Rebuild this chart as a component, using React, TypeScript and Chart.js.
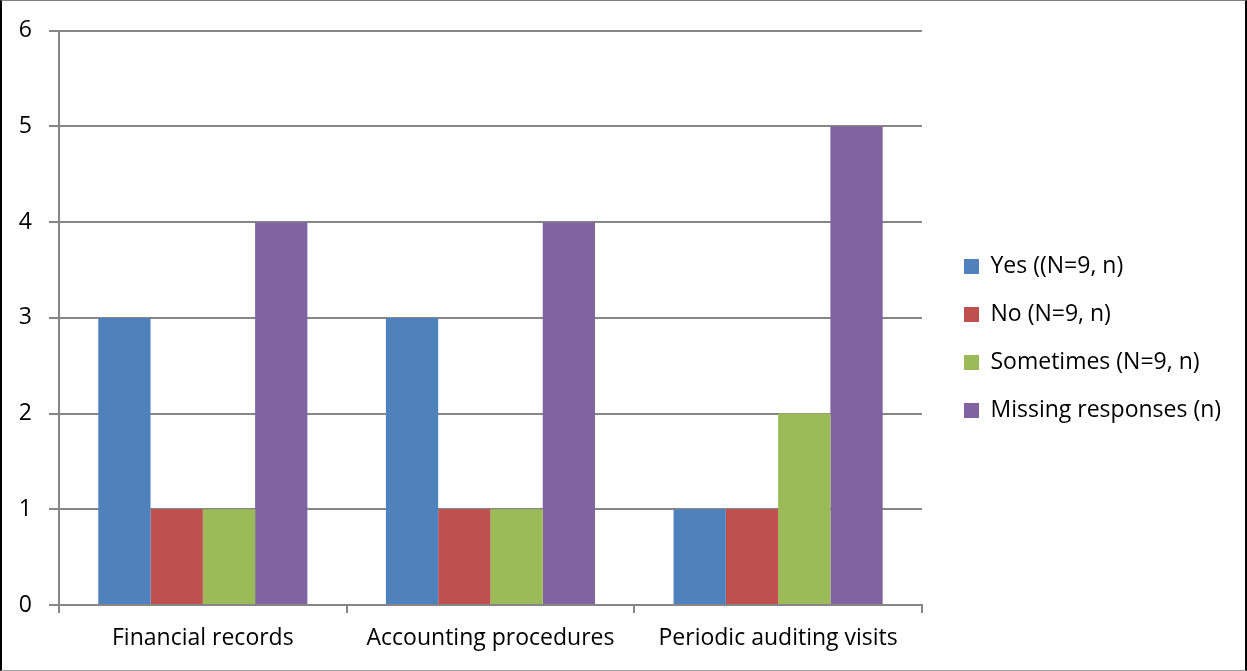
import React, { useEffect, useRef } from "react";
import { Chart, registerables } from "chart.js";

Chart.register(...registerables);

const categories = ["Financial records", "Accounting procedures", "Periodic auditing visits"];
const seriesNames = ["Yes ((N=9, n)", "No (N=9, n)", "Sometimes (N=9, n)", "Missing responses (n)"];
const yesValues = [3, 3, 1];
const noValues = [1, 1, 1];
const sometimesValues = [1, 1, 2];
const missingValues = [4, 4, 5];
const seriesColors = ["#4F81BD", "#C0504D", "#9BBB59", "#8064A2"];

const FONT = "'Open Sans', 'Noto Sans', sans-serif";
const GRID = "#868686";
const FS = 23;
const LEG_PAD = 25;

export default function App() {
  const ref = useRef<HTMLCanvasElement | null>(null);

  useEffect(() => {
    if (!ref.current) return;
    const values = [yesValues, noValues, sometimesValues, missingValues];
    const legendShift = {
      id: "legendShift",
      afterLayout(chart: any) {
        const lg = chart.legend;
        if (!lg) return;
        const dx = 964 - (lg.left + LEG_PAD);
        const dy = -12;
        lg.left += dx;
        lg.right += dx;
        lg.top += dy;
        lg.bottom += dy;
      },
    };
    const chart = new Chart(ref.current, {
      type: "bar",
      data: {
        labels: categories,
        datasets: seriesNames.map((name, i) => ({
          label: name,
          data: values[i],
          backgroundColor: seriesColors[i],
          borderWidth: 0,
          categoryPercentage: 0.727,
          barPercentage: 1,
        })),
      },
      options: {
        animation: false,
        responsive: false,
        maintainAspectRatio: false,
        layout: { padding: { top: 30, left: 0, bottom: 0, right: 33 } },
        plugins: {
          tooltip: { enabled: false },
          legend: {
            position: "right",
            labels: {
              boxWidth: 15,
              boxHeight: 15,
              padding: LEG_PAD,
              color: "#000",
              font: { family: FONT, size: FS },
            },
          },
        },
        scales: {
          x: {
            afterFit: (s: any) => {
              s.height = 66;
            },
            grid: {
              display: true,
              drawOnChartArea: false,
              drawTicks: true,
              tickLength: 8,
              offset: true,
              color: GRID,
              lineWidth: 2,
            },
            border: { display: true, color: GRID, width: 2 },
            ticks: {
              color: "#000",
              padding: 12,
              maxRotation: 0,
              font: { family: FONT, size: FS },
            },
          },
          y: {
            min: 0,
            max: 6,
            afterFit: (s: any) => {
              s.width = 59;
            },
            grid: {
              color: GRID,
              lineWidth: 2,
              drawTicks: true,
              tickLength: 10,
            },
            border: { display: true, color: GRID, width: 2 },
            ticks: {
              stepSize: 1,
              color: "#000",
              padding: 17,
              font: { family: FONT, size: FS },
            },
          },
        },
      },
      plugins: [legendShift],
    });
    return () => chart.destroy();
  }, []);

  return (
    <div
      style={{
        position: "absolute",
        left: 0,
        top: 0,
        width: 1247,
        height: 671,
        background: "#fff",
      }}
    >
      <canvas ref={ref} width={1247} height={671} style={{ display: "block" }} />
      <div
        style={{
          position: "absolute",
          inset: 0,
          boxSizing: "border-box",
          borderTop: "1px solid #7f7f7f",
          borderBottom: "1px solid #a0a0a0",
          borderLeft: "2px solid #000",
          borderRight: "2px solid #000",
          pointerEvents: "none",
        }}
      />
    </div>
  );
}
